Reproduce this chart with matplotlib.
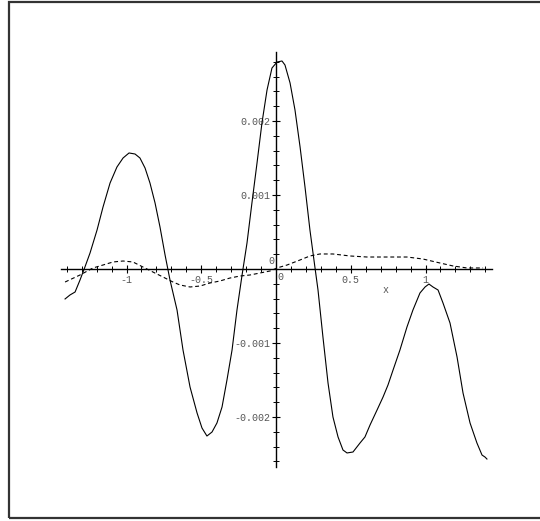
import matplotlib
matplotlib.use("Agg")
import numpy as np
import matplotlib.pyplot as plt
from matplotlib.patches import Rectangle
from matplotlib.ticker import FixedLocator, NullFormatter

# solid curve
x_solid = [-1.411, -1.378, -1.344, -1.311, -1.278, -1.244, -1.197, -1.157, -1.110, -1.064,
           -1.023, -0.983, -0.943, -0.910, -0.876, -0.843, -0.809, -0.776, -0.742, -0.709,
           -0.662, -0.622, -0.575, -0.528, -0.495, -0.462, -0.428, -0.395, -0.361, -0.328,
           -0.294, -0.261, -0.227, -0.194, -0.161, -0.127, -0.094, -0.060, -0.027, 0.007,
           0.040, 0.060, 0.094, 0.127, 0.161, 0.194, 0.227, 0.261, 0.281, 0.314,
           0.348, 0.381, 0.415, 0.448, 0.475, 0.515, 0.562, 0.595, 0.629, 0.676,
           0.716, 0.749, 0.783, 0.829, 0.876, 0.916, 0.963, 0.997, 1.023, 1.050,
           1.084, 1.117, 1.164, 1.211, 1.251, 1.298, 1.344, 1.378, 1.398, 1.411]
y_solid = [-0.405, -0.351, -0.311, -0.149, 0.027, 0.216, 0.527, 0.838, 1.162, 1.378,
           1.500, 1.568, 1.554, 1.500, 1.365, 1.162, 0.892, 0.568, 0.189, -0.149,
           -0.554, -1.095, -1.595, -1.946, -2.149, -2.257, -2.203, -2.081, -1.865, -1.500,
           -1.095, -0.554, -0.081, 0.351, 0.892, 1.432, 1.973, 2.419, 2.716, 2.797,
           2.811, 2.757, 2.514, 2.149, 1.649, 1.108, 0.527, 0.014, -0.284, -0.919,
           -1.541, -2.000, -2.270, -2.446, -2.486, -2.473, -2.351, -2.270, -2.108, -1.905,
           -1.730, -1.568, -1.365, -1.095, -0.784, -0.554, -0.324, -0.243, -0.203, -0.243,
           -0.284, -0.459, -0.730, -1.189, -1.676, -2.081, -2.351, -2.514, -2.541, -2.568]

# dashed curve
x_dash = [-1.411, -1.311, -1.224, -1.157, -1.090, -1.023, -0.957, -0.890, -0.823, -0.756,
          -0.689, -0.642, -0.575, -0.508, -0.441, -0.375, -0.308, -0.241, -0.174, -0.107,
          -0.040, 0.007, 0.074, 0.161, 0.227, 0.294, 0.381, 0.495, 0.609, 0.763,
          0.876, 0.983, 1.097, 1.184, 1.278, 1.385]
y_dash = [-0.176, -0.081, 0.014, 0.054, 0.095, 0.108, 0.095, 0.027, -0.041, -0.108,
          -0.176, -0.216, -0.243, -0.230, -0.189, -0.162, -0.122, -0.095, -0.081, -0.054,
          -0.027, 0.014, 0.054, 0.122, 0.176, 0.203, 0.203, 0.176, 0.162, 0.162,
          0.162, 0.135, 0.081, 0.041, 0.014, 0.014]

x_ticks = [-1, -0.5, 0.5, 1]
x_labels = ["-1", "-0.5", "0.5", "1"]
y_ticks = [0.002, 0.001, -0.001, -0.002]
y_labels = ["0.002", "0.001", "-0.001", "-0.002"]

W, H = 540, 521
fig = plt.figure(figsize=(W / 100, H / 100), dpi=100)
ax = fig.add_axes([0, 0, 1, 1])

# pixel layout: origin at (276, 269), 149.5 px per x unit, 74 px per 0.001
x0, y0, sx, sy = 276, 269, 149.5, 74000
ax.set_xlim(-x0 / sx, (W - x0) / sx)
ax.set_ylim(-(H - y0) / sy, y0 / sy)

ax.plot(x_solid, [v / 1000 for v in y_solid], color="black", lw=0.8)
ax.plot(x_dash, [v / 1000 for v in y_dash], color="black", lw=0.8,
        dashes=(3.5, 2.5))

xb = (-1.438, 1.445)
yb = (-0.00268, 0.00293)
for side in ("top", "right"):
    ax.spines[side].set_visible(False)
ax.spines["left"].set_position(("data", 0))
ax.spines["bottom"].set_position(("data", 0))
ax.spines["bottom"].set_bounds(*xb)
ax.spines["left"].set_bounds(*yb)
for side in ("left", "bottom"):
    ax.spines[side].set_linewidth(1.0)

# minor ticks only along the drawn axis lines
x_minor = [t for t in np.round(np.arange(-1.4, 1.45, 0.1), 2) if t != 0]
y_minor = [t for t in np.round(np.arange(-0.0026, 0.0029, 0.0002), 5) if t != 0]

ax.xaxis.set_major_locator(FixedLocator(x_ticks))
ax.xaxis.set_minor_locator(FixedLocator(x_minor))
ax.yaxis.set_major_locator(FixedLocator(y_ticks))
ax.yaxis.set_minor_locator(FixedLocator(y_minor))
ax.xaxis.set_minor_formatter(NullFormatter())
ax.yaxis.set_minor_formatter(NullFormatter())
ax.set_xticklabels(x_labels)
ax.set_yticklabels(y_labels)

fs = 7.2
tick_font = dict(family="Liberation Mono", size=fs)
ax.tick_params(which="major", direction="inout", length=6, width=0.8,
               labelsize=fs, labelcolor="#555555", pad=1)
ax.tick_params(which="minor", direction="inout", length=4, width=0.7)
for lab in ax.get_xticklabels() + ax.get_yticklabels():
    lab.set_family("Liberation Mono")

# origin labels and axis name
ax.text(-0.012, 0.00004, "0", ha="right", va="bottom", color="#555555", **tick_font)
ax.text(0.012, -0.00004, "0", ha="left", va="top", color="#555555", **tick_font)
ax.text(0.735, -0.00028, "x", ha="center", va="center", color="#555555", **tick_font)

# outer frame
fig.patches.append(Rectangle((8.5 / W, 1 - 517.5 / H), (W + 5) / W, 516 / H,
                             transform=fig.transFigure, fill=False,
                             edgecolor="#333333", lw=1.6, clip_on=False))

fig.savefig("out.png", dpi=100)
